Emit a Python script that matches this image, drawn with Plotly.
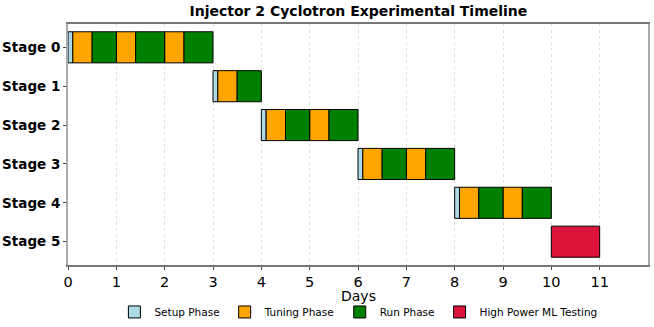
import plotly.graph_objects as go

stages = ["Stage 0", "Stage 1", "Stage 2", "Stage 3", "Stage 4", "Stage 5"]

# each segment: stage, start day, end day, phase
seg_stage = ["Stage 0"] * 7 + ["Stage 1"] * 3 + ["Stage 2"] * 5 + ["Stage 3"] * 5 + ["Stage 4"] * 5 + ["Stage 5"]
seg_start = [0.0, 0.1, 0.5, 1.0, 1.4, 2.0, 2.4,
             3.0, 3.1, 3.5,
             4.0, 4.1, 4.5, 5.0, 5.4,
             6.0, 6.1, 6.5, 7.0, 7.4,
             8.0, 8.1, 8.5, 9.0, 9.4,
             10.0]
seg_end = [0.1, 0.5, 1.0, 1.4, 2.0, 2.4, 3.0,
           3.1, 3.5, 4.0,
           4.1, 4.5, 5.0, 5.4, 6.0,
           6.1, 6.5, 7.0, 7.4, 8.0,
           8.1, 8.5, 9.0, 9.4, 10.0,
           11.0]
seg_phase = ["Setup Phase", "Tuning Phase", "Run Phase", "Tuning Phase", "Run Phase", "Tuning Phase", "Run Phase",
             "Setup Phase", "Tuning Phase", "Run Phase",
             "Setup Phase", "Tuning Phase", "Run Phase", "Tuning Phase", "Run Phase",
             "Setup Phase", "Tuning Phase", "Run Phase", "Tuning Phase", "Run Phase",
             "Setup Phase", "Tuning Phase", "Run Phase", "Tuning Phase", "Run Phase",
             "High Power ML Testing"]

phases = ["Setup Phase", "Tuning Phase", "Run Phase", "High Power ML Testing"]
phase_colors = {"Setup Phase": "#ADD8E6", "Tuning Phase": "#FFA500",
                "Run Phase": "#008000", "High Power ML Testing": "#DC143C"}

fig = go.Figure()
for ph in phases:
    idx = [i for i, p in enumerate(seg_phase) if p == ph]
    fig.add_trace(go.Bar(
        y=[seg_stage[i] for i in idx],
        x=[seg_end[i] - seg_start[i] for i in idx],
        base=[seg_start[i] for i in idx],
        orientation="h",
        width=0.8,
        name=ph,
        marker=dict(color=phase_colors[ph], line=dict(color="black", width=1)),
    ))

fig.update_layout(
    width=654, height=327,
    barmode="overlay",
    plot_bgcolor="white",
    paper_bgcolor="white",
    font=dict(family="DejaVu Sans", color="black"),
    margin=dict(l=68, r=6, t=24, b=62),
    title=dict(text="<b>Injector 2 Cyclotron Experimental Timeline</b>", x=0.548, xanchor="center",
               y=0.965, yanchor="middle", font=dict(size=14)),
    legend=dict(orientation="h", x=0.548, xanchor="center", xref="container",
                y=0.046, yanchor="middle", yref="container",
                font=dict(size=10.5), itemwidth=30),
)
# x-axis label placed by hand so it sits below the tick labels
fig.add_annotation(text="Days", x=0.5, xref="paper", y=-0.128, yref="paper",
                   yanchor="middle", showarrow=False, font=dict(size=14))
fig.update_xaxes(
    range=[0, 12], tickvals=list(range(12)), ticks="outside", ticklen=3, tickcolor="#444",
    showgrid=True, gridcolor="#e0e0e0", griddash="dot", gridwidth=1,
    showline=True, linecolor="#777777", linewidth=1.5, mirror=True,
    tickfont=dict(size=14.5), zeroline=False, automargin=False,
)
fig.update_yaxes(
    categoryorder="array", categoryarray=stages, range=[5.6, -0.6],
    ticks="outside", ticklen=3, tickcolor="#444", automargin=False,
    showgrid=False, showline=True, linecolor="#aaaaaa", linewidth=2, mirror=True,
    tickfont=dict(size=13.5), tickprefix="<b>", ticksuffix="</b>",
)

fig.write_html("out.html", config={"displayModeBar": False},
               post_script="document.body.style.margin='0';")
